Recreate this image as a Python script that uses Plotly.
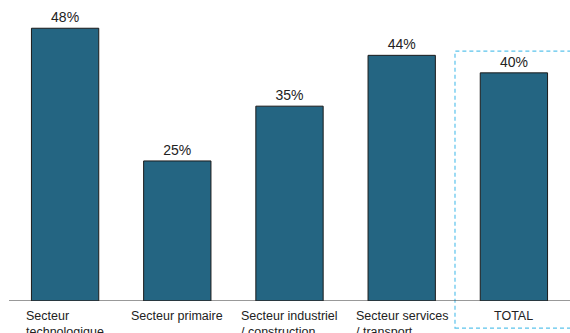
import plotly.graph_objects as go

categories = ["Secteur<br>technologique", "Secteur primaire", "Secteur industriel<br>/ construction",
              "Secteur services<br>/ transport", "TOTAL"]
values = [48.3, 24.8, 34.5, 43.5, 40.4]
value_labels = ["48%", "25%", "35%", "44%", "40%"]

x_idx = list(range(len(categories)))
FONT = "Liberation Sans, Arial"

fig = go.Figure()
fig.add_trace(go.Bar(
    x=x_idx, y=values, width=0.6,
    marker=dict(color="#246582", line=dict(color="#1b1b1b", width=1)),
    text=value_labels, textposition="outside",
    textfont=dict(size=14, color="#222222", family=FONT),
    cliponaxis=False,
))

for i, c in enumerate(categories):
    fig.add_annotation(x=i, xref="x", y=-0.033, yref="paper", text=c, showarrow=False,
                       xanchor="center", yanchor="top", align="left", yshift=4,
                       font=dict(size=12.5, color="#222222", family=FONT))

fig.add_shape(type="rect", xref="paper", yref="paper", x0=0.795, x1=1.02, y0=-0.09, y1=0.83,
              line=dict(color="#5bc3ec", width=1.2, dash="4px,3px"), fillcolor="rgba(0,0,0,0)",
              layer="above")

fig.update_layout(
    width=570, height=333,
    margin=dict(l=9, r=0, t=0, b=32),
    plot_bgcolor="white", paper_bgcolor="white",
    showlegend=False,
    xaxis=dict(range=[-0.5, 4.5], showticklabels=False, ticks="", showgrid=False,
               zeroline=False, showline=False),
    yaxis=dict(range=[0, 53.3], visible=False, showgrid=False, zeroline=False),
    font=dict(family=FONT),
)
fig.add_shape(type="line", xref="paper", yref="y", x0=0, x1=1, y0=0, y1=0,
              line=dict(color="#333333", width=1))

fig.write_html("out.html")
